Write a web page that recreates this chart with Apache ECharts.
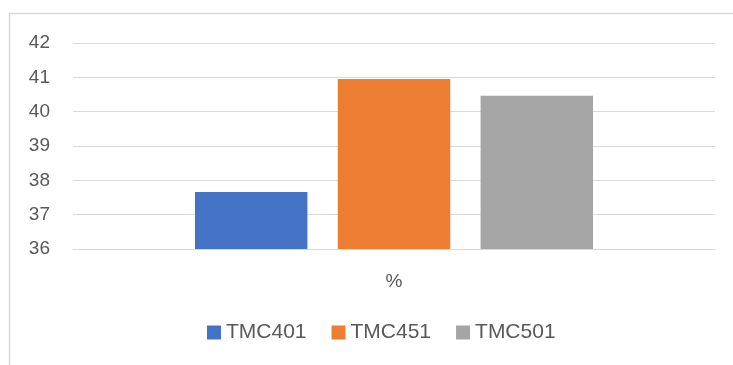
<!DOCTYPE html>
<html><head><meta charset="utf-8">
<script src="https://cdn.jsdelivr.net/npm/echarts@6/dist/echarts.min.js"></script>
<style>html,body{margin:0;padding:0;background:#fff}#c{width:733px;height:365px}</style>
</head><body><div id="c"></div>
<script>
const categories = ['%'];
const seriesNames = ['TMC401', 'TMC451', 'TMC501'];
const seriesValues = [[37.66], [40.95], [40.46]];
const colors = ['#4472C4', '#ED7D31', '#A5A5A5'];
const yTicks = { min: 36, max: 42, interval: 1 };

const chart = echarts.init(document.getElementById('c'), null, { renderer: 'canvas' });
const font = 'Liberation Sans, Arial, sans-serif';
chart.setOption({
  animation: false,
  graphic: [{ type: 'rect', shape: { x: 9.5, y: 13.5, width: 900, height: 500 },
    style: { fill: 'none', stroke: '#d9d9d9', lineWidth: 1.5 }, silent: true }],
  grid: { left: 73, right: 18, top: 43, bottom: 116, containLabel: false },
  legend: {
    data: seriesNames, bottom: 17, left: 202, padding: 5, itemWidth: 14, itemHeight: 14, itemGap: 25,
    icon: 'rect', textStyle: { color: '#595959', fontSize: 21, fontFamily: font }
  },
  xAxis: {
    type: 'category', data: categories,
    axisLine: { show: true, lineStyle: { color: '#d9d9d9', width: 1 } },
    axisTick: { show: false },
    axisLabel: { color: '#595959', fontSize: 19, fontFamily: font, margin: 23 }
  },
  yAxis: {
    type: 'value', min: yTicks.min, max: yTicks.max, interval: yTicks.interval,
    axisLine: { show: false }, axisTick: { show: false },
    splitLine: { lineStyle: { color: '#d9d9d9', width: 1 } },
    axisLabel: { color: '#595959', fontSize: 19, fontFamily: font, margin: 23 }
  },
  series: seriesNames.map((n, i) => ({
    name: n, type: 'bar', data: seriesValues[i], barGap: '27%', barCategoryGap: '38%',
    itemStyle: { color: colors[i] }
  }))
});
</script></body></html>
